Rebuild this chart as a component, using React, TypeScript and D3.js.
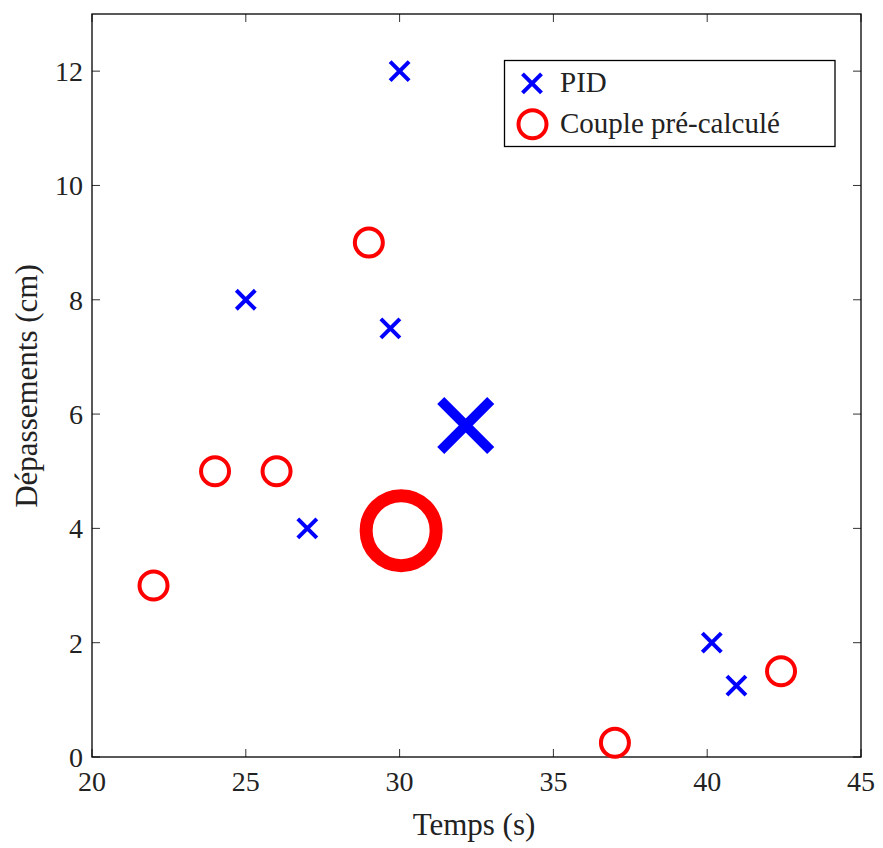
import React from "react";
import * as d3 from "d3";

const pidTime = [30, 25, 29.7, 27, 40.15, 40.95];
const pidOvershoot = [12, 8, 7.5, 4, 2, 1.25];
const pidMean = [32.15, 5.8];

const coupleTime = [29, 24, 26, 22, 37, 42.4];
const coupleOvershoot = [9, 5, 5, 3, 0.25, 1.5];
const coupleMean = [30.05, 3.96];

const xTicks = [20, 25, 30, 35, 40, 45];
const yTicks = [0, 2, 4, 6, 8, 10, 12];
const legendLabels = ["PID", "Couple pré-calculé"];

const W = 883, H = 848;
const left = 92, right = 861, top = 14, bottom = 757;
const FONT = "'Liberation Serif', 'Times New Roman', serif";
const BLUE = "#0000ff";
const RED = "#ff0000";

function Cross({ x, y, a, w }: { x: number; y: number; a: number; w: number }) {
  return (
    <path
      d={`M${x - a},${y - a}L${x + a},${y + a}M${x - a},${y + a}L${x + a},${y - a}`}
      stroke={BLUE}
      strokeWidth={w}
      fill="none"
    />
  );
}

export default function App() {
  const x = d3.scaleLinear().domain([20, 45]).range([left, right]);
  const y = d3.scaleLinear().domain([0, 13]).range([bottom, top]);
  const tickLen = 8;
  return (
    <svg width={W} height={H} style={{ position: "absolute", left: 0, top: 0 }} fontFamily={FONT}>
      <rect width={W} height={H} fill="#fff" />
      {/* ticks */}
      {xTicks.map((t) => (
        <g key={"x" + t}>
          <line x1={x(t)} x2={x(t)} y1={bottom} y2={bottom - tickLen} stroke="#333" strokeWidth={1} />
          <line x1={x(t)} x2={x(t)} y1={top} y2={top + tickLen} stroke="#333" strokeWidth={1} />
          <text x={x(t)} y={bottom + 34} textAnchor="middle" fontSize={28} fill="#222">{t}</text>
        </g>
      ))}
      {yTicks.map((t) => (
        <g key={"y" + t}>
          <line x1={left} x2={left + tickLen} y1={y(t)} y2={y(t)} stroke="#333" strokeWidth={1} />
          <line x1={right} x2={right - tickLen} y1={y(t)} y2={y(t)} stroke="#333" strokeWidth={1} />
          <text x={83} y={y(t) + 10} textAnchor="end" fontSize={28} fill="#222">{t}</text>
        </g>
      ))}
      <rect x={left} y={top} width={right - left} height={bottom - top} fill="none" stroke="#000" strokeWidth={1.3} />
      {/* data */}
      {pidTime.map((t, i) => (
        <Cross key={"p" + i} x={x(t)} y={y(pidOvershoot[i])} a={9.5} w={4} />
      ))}
      {coupleTime.map((t, i) => (
        <circle key={"c" + i} cx={x(t)} cy={y(coupleOvershoot[i])} r={14} fill="none" stroke={RED} strokeWidth={4} />
      ))}
      <Cross x={x(pidMean[0])} y={y(pidMean[1])} a={25} w={10} />
      <circle cx={x(coupleMean[0])} cy={y(coupleMean[1])} r={35} fill="none" stroke={RED} strokeWidth={13} />
      {/* labels */}
      <text x={474} y={835} textAnchor="middle" fontSize={31} fill="#222">Temps (s)</text>
      <text transform="translate(37,386) rotate(-90)" textAnchor="middle" fontSize={31} fill="#222">Dépassements (cm)</text>
      {/* legend */}
      <rect x={504.5} y={60.5} width={330.5} height={86} fill="#fff" stroke="#000" strokeWidth={1.3} />
      <Cross x={532} y={83.3} a={9.5} w={4} />
      <circle cx={532.5} cy={124.2} r={14} fill="none" stroke={RED} strokeWidth={4} />
      <text x={560} y={92.3} fontSize={29} fill="#222">{legendLabels[0]}</text>
      <text x={560} y={133.3} fontSize={29} fill="#222">{legendLabels[1]}</text>
    </svg>
  );
}
